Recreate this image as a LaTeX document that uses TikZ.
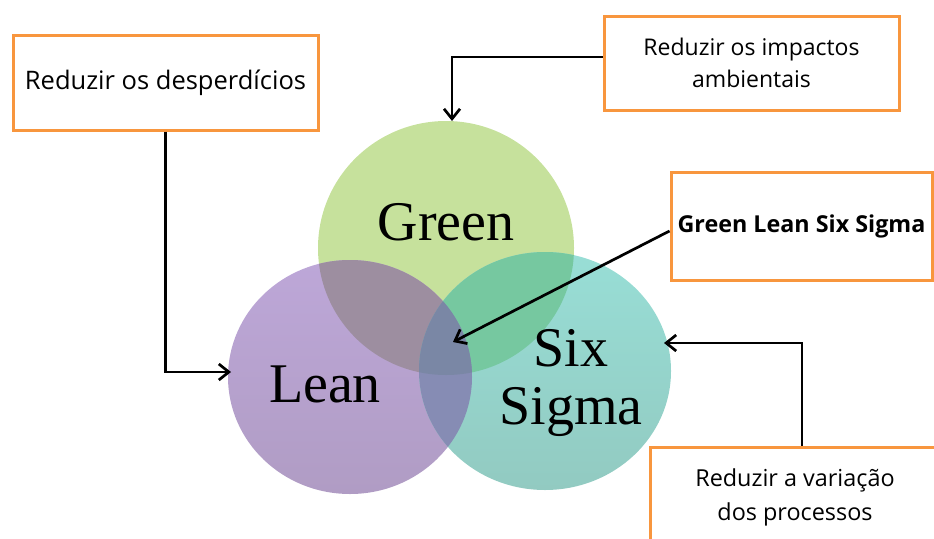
\documentclass[tikz,border=0pt]{standalone}
\usepackage{fontspec}
\setmainfont{Liberation Serif}
\newfontfamily\notefont{Open Sans}
\usetikzlibrary{arrows.meta,calc}

\definecolor{greenset}{RGB}{198,225,156}
\definecolor{leantop}{RGB}{189,167,216}
\definecolor{leanbottom}{RGB}{176,156,196}
\definecolor{sixtop}{RGB}{152,222,214}
\definecolor{sixbottom}{RGB}{146,202,193}
\definecolor{greenlean}{RGB}{157,142,160}
\definecolor{greensix}{RGB}{118,200,160}
\definecolor{leansix}{RGB}{134,140,180}
\definecolor{allsets}{RGB}{122,135,165}
\definecolor{noteorange}{RGB}{248,150,62}

% the three sets
\newcommand\greenpath{(446,248) ellipse [x radius=128, y radius=127]}
\newcommand\leanpath{(350,377) ellipse [x radius=122, y radius=117]}
\newcommand\sixpath{(545,371) ellipse [x radius=126, y radius=119]}

\begin{document}
\begin{tikzpicture}[x=1pt, y=-1pt,
	note/.style={draw=noteorange, line width=3pt, fill=white, align=center, inner sep=0pt,
		font=\notefont\fontsize{23}{32}\selectfont},
	setname/.style={font=\fontsize{56}{58}\selectfont, align=center},
	pointer/.style={draw=black, line width=2.7pt,
		-{Straight Barb[length=10pt, width=16pt, line width=2.7pt]}}]
	\useasboundingbox (0,0) rectangle (934,538);

	\fill[greenset] \greenpath;
	\shade[top color=leantop, bottom color=leanbottom] \leanpath;
	\shade[top color=sixtop, bottom color=sixbottom] \sixpath;
	\begin{scope}
		\clip \greenpath;
		\fill[greenlean] \leanpath;
		\fill[greensix] \sixpath;
	\end{scope}
	\begin{scope}
		\clip \leanpath;
		\fill[leansix] \sixpath;
		\clip \greenpath;
		\fill[allsets] \sixpath;
	\end{scope}

	\node[setname, anchor=base] (greenlbl) at (446,240) {Green};
	\node[setname, anchor=base] (leanlbl) at (325,402) {Lean};
	\node[setname] (sixlbl) at (571,383) {Six\\Sigma};

	\node[note, minimum width=305, minimum height=95, font=\notefont\fontsize{25.5}{32}\selectfont] (waste) at (165.5,82.5) {Reduzir os desperdícios};
	\node[note, minimum width=295, minimum height=94] (impact) at (751.5,63) {Reduzir os impactos\\ambientais};
	\node[note, minimum width=261, minimum height=108, font=\notefont\bfseries\fontsize{23.3}{28}\selectfont] (gls) at (801.5,226) {Green Lean Six Sigma};
	\node[note, minimum width=290, minimum height=100, font=\notefont\fontsize{23.4}{34}\selectfont] (variation) at (795,497) {Reduzir a variação\\dos processos};

	\coordinate (leanhit) at (231,372);
	\coordinate (greenhit) at (452,121);
	\coordinate (core) at (453,342);
	\coordinate (sixhit) at (664,343);

	\draw[pointer] (waste.south) |- (leanhit);
	\draw[pointer] ($(impact.west)+(0,-6)$) -| (greenhit);
	\draw[pointer] ($(gls.west)+(0,5)$) -- (core);
	\draw[pointer] ($(variation.north)+(7,0)$) |- (sixhit);
\end{tikzpicture}
\end{document}
